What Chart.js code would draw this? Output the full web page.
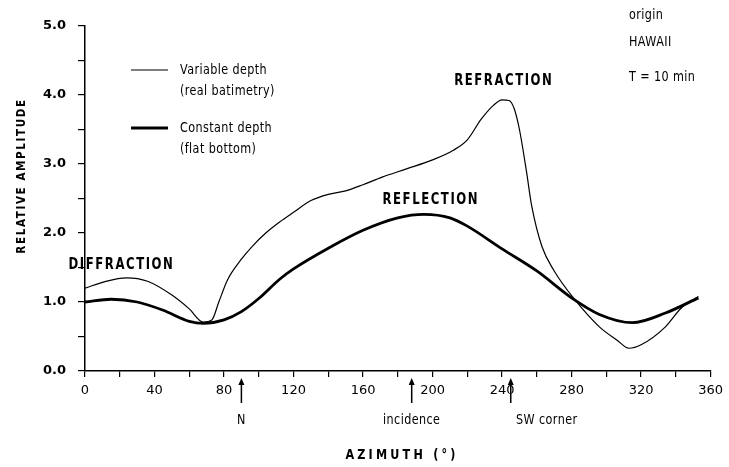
<!DOCTYPE html>
<html>
<head>
<meta charset="utf-8">
<script src="https://cdn.jsdelivr.net/npm/chart.js@4/dist/chart.umd.min.js"></script>
<style>
  html, body { margin: 0; padding: 0; background: #fff; }
  #wrap { width: 729px; height: 467px; }
</style>
</head>
<body>
<div id="wrap"><canvas id="c" width="729" height="467"></canvas></div>
<script>
// ---- data ----
const variableAzimuth = [0, 12, 24, 36, 50, 60, 68, 73, 77, 82, 90, 96, 104, 112, 120, 130, 140, 150, 160, 171, 185, 200, 212, 220, 228, 235, 240, 244, 247, 250, 254, 257, 263, 270, 282, 296, 306, 313, 320, 334, 343, 353];
const variableAmplitude = [1.20, 1.30, 1.35, 1.30, 1.10, 0.90, 0.71, 0.74, 1.00, 1.32, 1.62, 1.80, 2.00, 2.16, 2.30, 2.47, 2.56, 2.61, 2.70, 2.81, 2.93, 3.06, 3.20, 3.35, 3.65, 3.85, 3.93, 3.92, 3.80, 3.50, 2.90, 2.40, 1.80, 1.45, 1.03, 0.64, 0.45, 0.33, 0.38, 0.64, 0.91, 1.08];
const constantAzimuth = [0, 15, 30, 45, 60, 68, 80, 90, 100, 112, 120, 140, 160, 180, 195, 210, 220, 240, 260, 280, 296, 315, 334, 353];
const constantAmplitude = [1.00, 1.04, 1.00, 0.88, 0.72, 0.69, 0.74, 0.86, 1.05, 1.33, 1.48, 1.78, 2.04, 2.22, 2.27, 2.22, 2.10, 1.77, 1.45, 1.06, 0.82, 0.70, 0.84, 1.06];
const seriesNames = ["Variable depth", "Constant depth"];
const seriesNotes = ["(real batimetry)", "(flat bottom)"];
const yTickValues = [0, 1, 2, 3, 4, 5];
const xTickValues = [0, 40, 80, 120, 160, 200, 240, 280, 320, 360];
const markerAzimuths = [90, 188, 245];
const markerLabels = ["N", "incidence", "SW corner"];
const regionLabels = ["DIFFRACTION", "REFLECTION", "REFRACTION"];
const regionAnchors = [[21, 1.53], [199, 2.48], [241, 4.2]];
const infoLines = ["origin", "HAWAII", "T = 10 min"];

const toPts = (xs, ys) => xs.map((x, i) => ({x: x, y: ys[i]}));
const FONT = '"DejaVu Sans", "Liberation Sans", sans-serif';

function narrowText(ctx, t, x, y, sx, align) {
  ctx.save();
  ctx.translate(x, y);
  ctx.scale(sx, 1);
  ctx.textAlign = align;
  ctx.fillText(t, 0, 0);
  ctx.restore();
}

const annotate = {
  id: 'annotate',
  afterDraw(chart) {
    const ctx = chart.ctx;
    const xs = chart.scales.x, ys = chart.scales.y;
    ctx.save();
    ctx.fillStyle = '#000';
    ctx.strokeStyle = '#000';
    ctx.textBaseline = 'middle';

    // region labels
    ctx.font = 'bold 15px ' + FONT;
    ctx.letterSpacing = '2px';
    regionLabels.forEach((t, i) => {
      const a = regionAnchors[i];
      narrowText(ctx, t, xs.getPixelForValue(a[0]), ys.getPixelForValue(a[1]), 0.78, 'center');
    });

    // info top-right
    ctx.font = '14px ' + FONT;
    ctx.letterSpacing = '0.5px';
    const infoY = [15, 42, 77];
    infoLines.forEach((t, i) => narrowText(ctx, t, 629, infoY[i], 0.8, 'left'));

    // legend
    const legY = [70, 128];
    const legW = [1.2, 2.8];
    legY.forEach((y, i) => {
      ctx.lineWidth = legW[i];
      ctx.beginPath();
      ctx.moveTo(131, y);
      ctx.lineTo(168, y);
      ctx.stroke();
      ctx.font = '14px ' + FONT;
      narrowText(ctx, seriesNames[i], 180, y, 0.8, 'left');
      narrowText(ctx, seriesNotes[i], 180, y + 21, 0.8, 'left');
    });

    // markers (arrows under axis)
    ctx.lineWidth = 1.5;
    ctx.font = '14px ' + FONT;
    markerAzimuths.forEach((az, i) => {
      const px = xs.getPixelForValue(az);
      const top = ys.bottom + 7;
      ctx.beginPath();
      ctx.moveTo(px, top + 25);
      ctx.lineTo(px, top + 3);
      ctx.stroke();
      ctx.beginPath();
      ctx.moveTo(px, top);
      ctx.lineTo(px - 3, top + 7);
      ctx.lineTo(px + 3, top + 7);
      ctx.closePath();
      ctx.fill();
      narrowText(ctx, markerLabels[i], i === 2 ? px + 36 : px, 420, 0.8, 'center');
    });

    // axis titles
    ctx.font = 'bold 14px ' + FONT;
    ctx.letterSpacing = '4px';
    narrowText(ctx, 'AZIMUTH (°)', 402, 455, 0.8, 'center');
    ctx.letterSpacing = '2px';
    ctx.font = 'bold 13px ' + FONT;
    ctx.save();
    ctx.translate(22, 176);
    ctx.rotate(-Math.PI / 2);
    narrowText(ctx, 'RELATIVE AMPLITUDE', 0, 0, 0.8, 'center');
    ctx.restore();
    ctx.restore();
  }
};

new Chart(document.getElementById('c'), {
  type: 'scatter',
  data: {
    datasets: [
      {
        label: seriesNames[0],
        data: toPts(variableAzimuth, variableAmplitude),
        showLine: true,
        borderColor: '#000',
        borderWidth: 1.2,
        pointRadius: 0,
        cubicInterpolationMode: 'monotone'
      },
      {
        label: seriesNames[1],
        data: toPts(constantAzimuth, constantAmplitude),
        showLine: true,
        borderColor: '#000',
        borderWidth: 2.8,
        pointRadius: 0,
        cubicInterpolationMode: 'monotone'
      }
    ]
  },
  options: {
    responsive: false,
    animation: false,
    devicePixelRatio: 1,
    layout: { padding: { left: 0, right: 17, top: 26, bottom: 0 } },
    plugins: { legend: { display: false }, tooltip: { enabled: false } },
    scales: {
      x: {
        type: 'linear',
        min: 0, max: 360,
        afterFit(s) { s.height = 96; },
        border: { display: true, color: '#000', width: 1.5 },
        grid: { display: true, drawOnChartArea: false, drawTicks: true, tickLength: 6, color: '#000', lineWidth: 1.2 },
        ticks: {
          stepSize: 20,
          color: '#000',
          padding: 6,
          maxRotation: 0,
          autoSkip: false,
          font: { family: FONT, size: 13 },
          callback: (v) => xTickValues.includes(v) ? String(v) : ''
        }
      },
      y: {
        type: 'linear',
        min: 0, max: 5,
        afterFit(s) { s.width = 85; },
        border: { display: true, color: '#000', width: 1.5 },
        grid: { display: true, drawOnChartArea: false, drawTicks: true, tickLength: 7, color: '#000', lineWidth: 1.2 },
        ticks: {
          stepSize: 0.5,
          color: '#000',
          padding: 12,
          autoSkip: false,
          font: { family: FONT, size: 13, weight: 'bold' },
          callback: (v) => yTickValues.includes(v) ? v.toFixed(1) : ''
        }
      }
    }
  },
  plugins: [annotate]
});
</script>
</body>
</html>
